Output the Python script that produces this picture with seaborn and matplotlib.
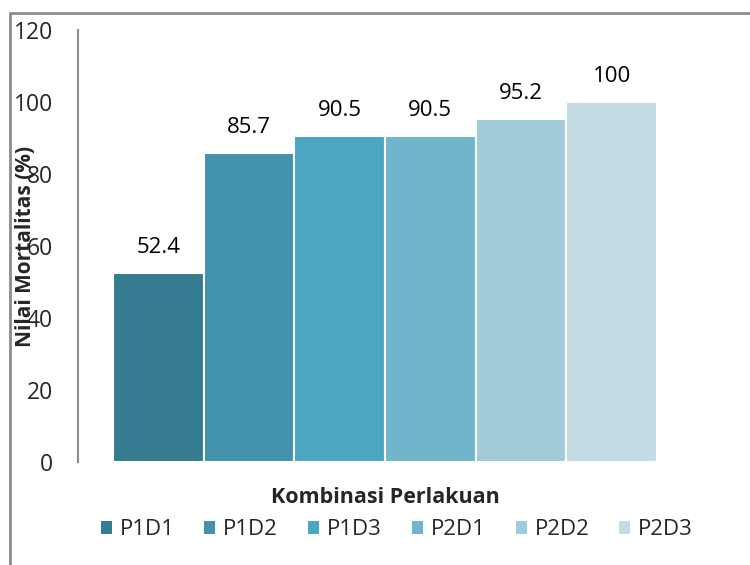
import numpy as np
import pandas as pd
import matplotlib
matplotlib.use("Agg")
import matplotlib.pyplot as plt
from matplotlib.lines import Line2D
from matplotlib.patches import Patch
import seaborn as sns

# data
perlakuan = ['P1D1', 'P1D2', 'P1D3', 'P2D1', 'P2D2', 'P2D3']
mortalitas = [52.4, 85.7, 90.5, 90.5, 95.2, 100]
warna = ['#367C90', '#4192AA', '#4AA6C1', '#70B5CB', '#A2CBDA', '#C2DCE4']
y_ticks = [0, 20, 40, 60, 80, 100, 120]

df = pd.DataFrame({'perlakuan': perlakuan, 'mortalitas': mortalitas})

sns.set_style('white')
plt.rcParams['font.family'] = ['Open Sans', 'DejaVu Sans']

fig = plt.figure(figsize=(7.5, 5.65), dpi=100)
ax = fig.add_axes([0.104, 0.1823, 0.816, 0.7646])

sns.barplot(data=df, x='perlakuan', y='mortalitas', hue='perlakuan',
            palette=warna, width=1.0, legend=False, ax=ax,
            edgecolor='white', linewidth=1.5, saturation=1)

# value labels above the bars
for i, v in enumerate(mortalitas):
    ax.annotate(f'{v:g}', xy=(i, v), xytext=(0, 11), textcoords='offset points',
                ha='center', va='bottom', fontsize=16, color='black')

ax.set_xlim(-0.886, 5.864)
ax.set_ylim(0, 120)
ax.set_yticks(y_ticks)
ax.tick_params(axis='y', length=0, pad=18, labelsize=16.5)
ax.set_xticks([])

# the y label sits over the tick labels, as in the original chart
ax.set_ylabel('Nilai Mortalitas (%)', fontsize=15, fontweight='bold')
ax.yaxis.set_label_coords(-0.068, 0.5)
ax.set_xlabel('Kombinasi Perlakuan', fontsize=15.5, fontweight='bold')
ax.xaxis.set_label_coords(0.502, -0.058)

for side in ['top', 'right', 'bottom']:
    ax.spines[side].set_visible(False)
ax.spines['left'].set_color('#8c8c8c')
ax.spines['left'].set_linewidth(1.5)

# legend below the x label
handles = [Patch(facecolor=c, edgecolor='none') for c in warna]
fig.legend(handles, perlakuan, loc='center', bbox_to_anchor=(0.529, 0.062),
           ncol=6, frameon=False, fontsize=16, handlelength=0.5,
           handleheight=0.5, handletextpad=0.35, columnspacing=1.35)

# grey frame (only top and left edges show in the picture)
fig.add_artist(Line2D([0.0133, 0.0133], [0.0, 0.977], color='#8c8c8c', lw=2))
fig.add_artist(Line2D([0.0133, 1.0], [0.977, 0.977], color='#8c8c8c', lw=2))

fig.savefig('out.png', dpi=100)
